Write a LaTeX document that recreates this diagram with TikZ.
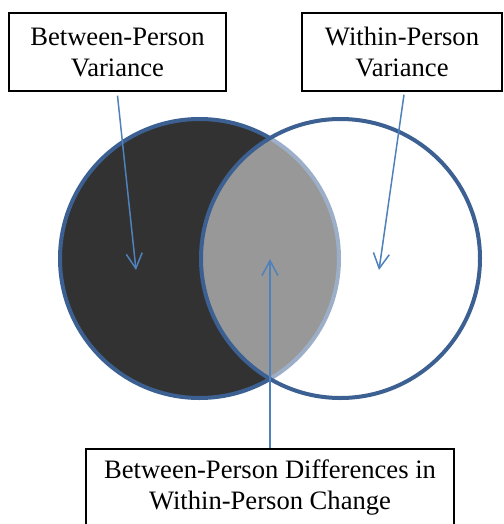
\documentclass[tikz,border=0pt]{standalone}
\usepackage{fontspec}
\setmainfont{Liberation Serif}
\usepackage{tikz}
\usetikzlibrary{positioning,arrows.meta}
\definecolor{ringblue}{RGB}{60,96,146}
\definecolor{arrowblue}{RGB}{79,129,189}
\definecolor{darkfill}{RGB}{50,50,50}

\begin{document}
\begin{tikzpicture}[x=1pt,y=-1pt,
  box/.style={draw=black,rectangle,line width=1.4pt,align=center,inner sep=3pt,
    font=\fontsize{26.6}{31}\selectfont},
  ring/.style={draw=ringblue,line width=4pt},
  arrow/.style={-{Straight Barb[length=15pt,width=16pt,line width=1.5pt]},draw=arrowblue,line width=1.5pt}]
  \useasboundingbox (0,0) rectangle (503,524);
  % circles
  \fill[darkfill] (199.5,258.5) circle (139.5);
  \draw[ring] (199.5,258.5) circle (139.5);
  \fill[white,fill opacity=0.5] (340.5,258.5) circle (139.5);
  \draw[ring] (340.5,258.5) circle (139.5);
  % labels
  \node[box,minimum width=217pt,minimum height=78pt] (between) at (117.5,52) {Between-Person\\Variance};
  \node[box,minimum width=200pt,minimum height=78pt] (within) at (402,52) {Within-Person\\Variance};
  \node[box,minimum width=368pt,minimum height=76pt] (change) at (270,487) {Between-Person Differences in\\Within-Person Change};
  \coordinate (betweentip) at (136,270);
  \coordinate (withintip) at (379,270);
  \coordinate (changetip) at (270,259);
  \draw[arrow] ([yshift=-4pt]between.south) -- (betweentip);
  \draw[arrow] ([xshift=2pt,yshift=-3pt]within.south) -- (withintip);
  \draw[arrow] (change.north) -- (changetip);
\end{tikzpicture}
\end{document}
